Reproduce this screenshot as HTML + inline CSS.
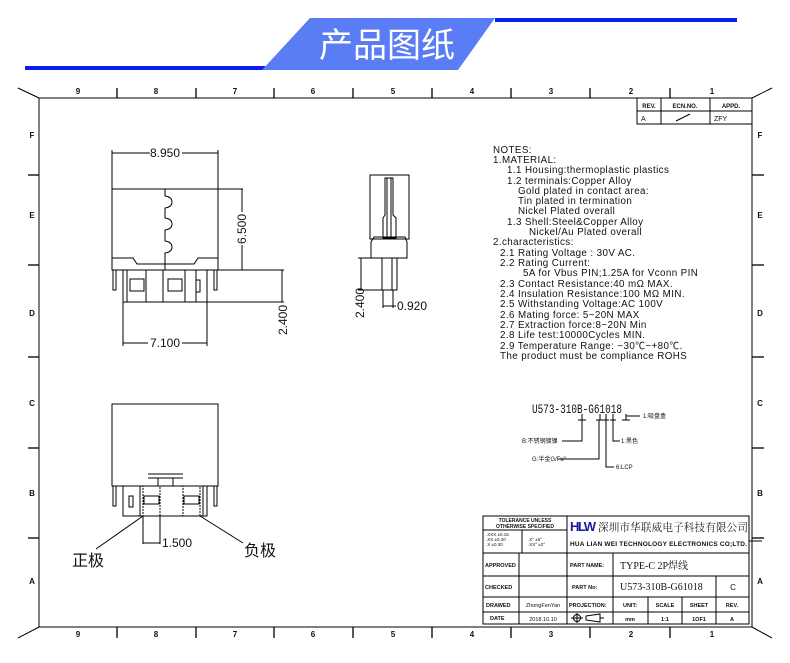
<!DOCTYPE html>
<html><head><meta charset="utf-8"><style>
html,body{margin:0;padding:0;background:#fff;width:790px;height:663px;overflow:hidden}
svg{display:block}
text{font-family:"Liberation Sans","Noto Sans CJK SC",sans-serif;fill:#111}
.s{font-family:"Liberation Serif","Noto Serif CJK SC",serif}
.m{font-family:"Liberation Mono",monospace}
.b{font-weight:bold}
</style></head><body>
<svg width="790" height="663" viewBox="0 0 790 663" xmlns="http://www.w3.org/2000/svg">
<rect x="25" y="66" width="240" height="4" fill="#0a1bf0"/>
<rect x="495" y="18" width="242" height="4" fill="#0a1bf0"/>
<polygon points="310,18 495,18 458,70 262,70" fill="#5a7cf4"/>
<text x="387" y="57" font-size="34" text-anchor="middle" style="fill:#fff">产品图纸</text>

<g stroke="#000" fill="none" stroke-width="1">
<rect x="39" y="98" width="713" height="529"/>
<line x1="18" y1="88" x2="39" y2="98"/><line x1="772" y1="88" x2="752" y2="98"/>
<line x1="18" y1="638" x2="39" y2="627"/><line x1="772" y1="638" x2="752" y2="627"/>
<g stroke-width="1.3">
<line x1="117" y1="88" x2="117" y2="98"/><line x1="196" y1="88" x2="196" y2="98"/><line x1="274" y1="88" x2="274" y2="98"/><line x1="353" y1="88" x2="353" y2="98"/><line x1="432" y1="88" x2="432" y2="98"/><line x1="511" y1="88" x2="511" y2="98"/><line x1="590" y1="88" x2="590" y2="98"/><line x1="670" y1="88" x2="670" y2="98"/>
<line x1="117" y1="627" x2="117" y2="638"/><line x1="196" y1="627" x2="196" y2="638"/><line x1="274" y1="627" x2="274" y2="638"/><line x1="353" y1="627" x2="353" y2="638"/><line x1="432" y1="627" x2="432" y2="638"/><line x1="511" y1="627" x2="511" y2="638"/><line x1="590" y1="627" x2="590" y2="638"/><line x1="670" y1="627" x2="670" y2="638"/>
<line x1="28" y1="175" x2="39" y2="175"/><line x1="28" y1="265" x2="39" y2="265"/><line x1="28" y1="357" x2="39" y2="357"/><line x1="28" y1="448" x2="39" y2="448"/><line x1="28" y1="538" x2="39" y2="538"/>
<line x1="752" y1="175" x2="764" y2="175"/><line x1="752" y1="265" x2="764" y2="265"/><line x1="752" y1="357" x2="764" y2="357"/><line x1="752" y1="448" x2="764" y2="448"/><line x1="752" y1="538" x2="764" y2="538"/>
</g>
<rect x="637" y="98" width="115" height="26"/><line x1="637" y1="111" x2="752" y2="111"/>
<line x1="661" y1="98" x2="661" y2="124"/><line x1="710" y1="98" x2="710" y2="124"/>
<line x1="676" y1="121" x2="690" y2="114"/>

<line x1="112" y1="150" x2="112" y2="189"/><line x1="218" y1="150" x2="218" y2="189"/>
<line x1="112" y1="153" x2="150" y2="153"/><line x1="182" y1="153" x2="218" y2="153"/>
<rect x="112" y="189" width="106" height="81"/>
<path d="M112 258 H133 L137 264 H194 L198 258 H218"/>
<path d="M165 189 V196 Q172 197 172 202 Q172 207 165 208 V218 Q172 219 172 224 Q172 229 165 230 V241 Q172 242 172 247 Q172 252 165 253 V270"/>
<line x1="218" y1="189" x2="243" y2="189"/><line x1="242" y1="189" x2="242" y2="212"/><line x1="242" y1="245" x2="242" y2="270"/>
<line x1="112" y1="270" x2="284" y2="270"/>
<rect x="113" y="270" width="3" height="20"/><rect x="214" y="270" width="3" height="20"/>
<rect x="123" y="270" width="84" height="32"/>
<line x1="127" y1="270" x2="127" y2="302"/><line x1="146" y1="270" x2="146" y2="302"/><line x1="163" y1="270" x2="163" y2="302"/><line x1="185" y1="270" x2="185" y2="302"/><line x1="196" y1="270" x2="196" y2="302"/>
<rect x="130" y="279" width="14" height="12"/><rect x="168" y="279" width="14" height="12"/><rect x="196" y="280" width="4" height="12"/>
<line x1="207" y1="302" x2="284" y2="302"/><line x1="282" y1="270" x2="282" y2="302"/>
<line x1="123" y1="302" x2="123" y2="346"/><line x1="207" y1="302" x2="207" y2="346"/>
<line x1="123" y1="343" x2="148" y2="343"/><line x1="182" y1="343" x2="207" y2="343"/>

<rect x="370" y="175" width="39" height="64"/>
<path d="M385 178 H393 V215 L396 218 V238 H383 V218 L385 215 Z"/>
<line x1="387" y1="178" x2="387" y2="238"/><line x1="391" y1="178" x2="391" y2="238"/>
<path d="M371 258 V242 L374 237 H405 L407 242 V258 Z"/>
<path d="M382 258 V290 H397 V258"/><line x1="392" y1="258" x2="392" y2="290"/>
<line x1="358" y1="258" x2="382" y2="258"/><line x1="358" y1="290" x2="382" y2="290"/>
<line x1="361" y1="258" x2="361" y2="290"/>
<line x1="383" y1="290" x2="383" y2="308"/><line x1="393" y1="290" x2="393" y2="308"/>
<line x1="383" y1="306" x2="396" y2="306"/>

<rect x="112" y="404" width="106" height="82"/>
<rect x="123" y="486" width="84" height="30"/>
<path d="M148 474 H183 M148 478 H183 M158 478 V486 M173 478 V486"/>
<rect x="113" y="486" width="3" height="20"/><rect x="214" y="486" width="3" height="20"/>
<rect x="129" y="496" width="4" height="11"/>
<rect x="143" y="486" width="17" height="30" stroke-dasharray="2,1"/>
<rect x="183" y="486" width="17" height="30" stroke-dasharray="2,1"/>
<rect x="144" y="496" width="15" height="8"/><rect x="184" y="496" width="15" height="8"/>
<line x1="140" y1="486" x2="140" y2="516"/><line x1="203" y1="486" x2="203" y2="516"/>
<line x1="143" y1="516" x2="143" y2="544"/><line x1="160" y1="516" x2="160" y2="544"/>
<line x1="143" y1="543" x2="160" y2="543"/>
<line x1="143" y1="516" x2="96" y2="549"/><line x1="200" y1="516" x2="243" y2="543"/>

<path d="M582 414 V420 M578 420 H586 M582 420 V441 H562"/>
<path d="M600 414 V420 M596 420 H603 M599 420 V459 H558"/>
<path d="M606 414 V420 M603 420 H609 M606 420 V467 H614"/>
<path d="M613 414 V420 M610 420 H616 M613 420 V441 H620"/>
<path d="M626 414 V420 M622 420 H630 M626 420 V416 H640"/>

<rect x="483" y="516" width="266" height="108"/>
<line x1="483" y1="530" x2="567" y2="530"/>
<line x1="567" y1="516" x2="567" y2="624"/>
<line x1="483" y1="553" x2="749" y2="553"/>
<line x1="483" y1="576" x2="749" y2="576"/>
<line x1="483" y1="597" x2="749" y2="597"/>
<line x1="483" y1="612" x2="749" y2="612"/>
<line x1="519" y1="553" x2="519" y2="624"/><line x1="522" y1="530" x2="522" y2="553"/>
<line x1="613" y1="553" x2="613" y2="624"/>
<line x1="648" y1="597" x2="648" y2="624"/><line x1="682" y1="597" x2="682" y2="624"/>
<line x1="716" y1="576" x2="716" y2="624"/>
<line x1="749" y1="541" x2="762" y2="541"/>
<circle cx="577" cy="618" r="3.5"/><line x1="571" y1="618" x2="583" y2="618"/><line x1="577" y1="613" x2="577" y2="623"/>
<path d="M586 616 L600 614 V622 L586 620 Z M600 618 H604"/>
</g>

<g font-size="8" class="b" text-anchor="middle">
<text x="78" y="94">9</text><text x="156" y="94">8</text><text x="235" y="94">7</text><text x="313" y="94">6</text><text x="393" y="94">5</text><text x="472" y="94">4</text><text x="551" y="94">3</text><text x="631" y="94">2</text><text x="712" y="94">1</text>
<text x="78" y="637">9</text><text x="156" y="637">8</text><text x="235" y="637">7</text><text x="313" y="637">6</text><text x="393" y="637">5</text><text x="472" y="637">4</text><text x="551" y="637">3</text><text x="631" y="637">2</text><text x="712" y="637">1</text>
<text x="32" y="138">F</text><text x="32" y="218">E</text><text x="32" y="316">D</text><text x="32" y="406">C</text><text x="32" y="496">B</text><text x="32" y="584">A</text>
<text x="760" y="138">F</text><text x="760" y="218">E</text><text x="760" y="316">D</text><text x="760" y="406">C</text><text x="760" y="496">B</text><text x="760" y="584">A</text>
<text x="649" y="108" font-size="6">REV.</text><text x="685" y="108" font-size="6">ECN.NO.</text><text x="731" y="108" font-size="6">APPD.</text>
</g>
<text x="641" y="121" font-size="7">A</text><text x="714" y="121" font-size="7">ZFY</text>

<g font-size="12">
<text x="165" y="157" text-anchor="middle">8.950</text>
<text x="165" y="347" text-anchor="middle">7.100</text>
<text transform="translate(246,229) rotate(-90)" text-anchor="middle">6.500</text>
<text transform="translate(287,320) rotate(-90)" text-anchor="middle">2.400</text>
<text transform="translate(364,303) rotate(-90)" text-anchor="middle">2.400</text>
<text x="397" y="310">0.920</text>
<text x="162" y="547">1.500</text>
</g>
<text x="72" y="566" font-size="16">正极</text>
<text x="244" y="556" font-size="16">负极</text>

<g font-size="9.8" style="letter-spacing:0.4px">
<text x="493" y="153">NOTES:</text>
<text x="493" y="163">1.MATERIAL:</text>
<text x="507" y="173">1.1 Housing:thermoplastic plastics</text>
<text x="507" y="184">1.2 terminals:Copper Alloy</text>
<text x="518" y="194">Gold plated in contact area:</text>
<text x="518" y="204">Tin plated in termination</text>
<text x="518" y="214">Nickel Plated overall</text>
<text x="507" y="225">1.3 Shell:Steel&amp;Copper Alloy</text>
<text x="529" y="235">Nickel/Au Plated overall</text>
<text x="493" y="245">2.characteristics:</text>
<text x="500" y="256">2.1 Rating Voltage : 30V AC.</text>
<text x="500" y="266">2.2 Rating Current:</text>
<text x="523" y="276">5A for Vbus PIN;1.25A for Vconn PIN</text>
<text x="500" y="287">2.3 Contact Resistance:40 mΩ MAX.</text>
<text x="500" y="297">2.4 Insulation Resistance:100 MΩ MIN.</text>
<text x="500" y="307">2.5 Withstanding Voltage:AC 100V</text>
<text x="500" y="318">2.6 Mating force: 5~20N MAX</text>
<text x="500" y="328">2.7 Extraction force:8~20N Min</text>
<text x="500" y="338">2.8 Life test:10000Cycles MIN.</text>
<text x="500" y="349">2.9 Temperature Range: −30℃~+80℃.</text>
<text x="500" y="359">The product must be compliance ROHS</text>
</g>

<text x="532" y="413" font-size="13" class="m" textLength="90" lengthAdjust="spacingAndGlyphs">U573-310B-G61018</text>
<g font-size="6" class="s">
<text x="643" y="418">1:吸盘盒</text>
<text x="522" y="443">B:不锈钢镀镍</text>
<text x="532" y="461">G:半金G/Fu"</text>
<text x="621" y="443">1:黑色</text>
<text x="616" y="469">6:LCP</text>
</g>

<g font-size="5" class="b" text-anchor="middle">
<text x="525" y="522">TOLERANCE UNLESS</text>
<text x="525" y="528">OTHERWISE SPECIFIED</text>
</g>
<g font-size="4.5">
<text x="486" y="536">.XXX ±0.15</text><text x="486" y="541">.XX  ±0.20</text><text x="486" y="546">.X   ±0.30</text>
<text x="528" y="541">.X° ±5°</text><text x="528" y="546">.XX° ±2°</text>
</g>
<text x="570" y="531" font-size="13" class="b" style="fill:#1a1a9a" textLength="26">HLW</text>
<text x="598" y="531" font-size="10.6" class="s" style="fill:#222" textLength="150">深圳市华联威电子科技有限公司</text>
<text x="570" y="546" font-size="6.5" class="b" textLength="177">HUA LIAN WEI TECHNOLOGY ELECTRONICS CO;LTD.</text>
<g font-size="5.5" class="b">
<text x="485" y="567">APPROVED</text>
<text x="485" y="589">CHECKED</text>
<text x="486" y="607">DRAWED</text>
<text x="490" y="620">DATE</text>
<text x="570" y="567">PART NAME:</text>
<text x="572" y="589">PART No:</text>
<text x="569" y="607">PROJECTION:</text>
</g>
<g font-size="5.5" class="b" text-anchor="middle">
<text x="630" y="607">UNIT:</text><text x="665" y="607">SCALE</text><text x="699" y="607">SHEET</text><text x="732" y="607">REV.</text>
<text x="630" y="621">mm</text><text x="665" y="621">1:1</text><text x="699" y="621">1OF1</text><text x="732" y="621">A</text>
</g>
<text x="543" y="607" font-size="5.5" text-anchor="middle">ZhongFenYan</text>
<text x="543" y="621" font-size="5.5" text-anchor="middle">2018.10.10</text>
<text x="620" y="569" font-size="10" class="s">TYPE-C 2P焊线</text>
<text x="620" y="590" font-size="10" class="s">U573-310B-G61018</text>
<text x="733" y="590" font-size="8" text-anchor="middle">C</text>
</svg>
</body></html>
